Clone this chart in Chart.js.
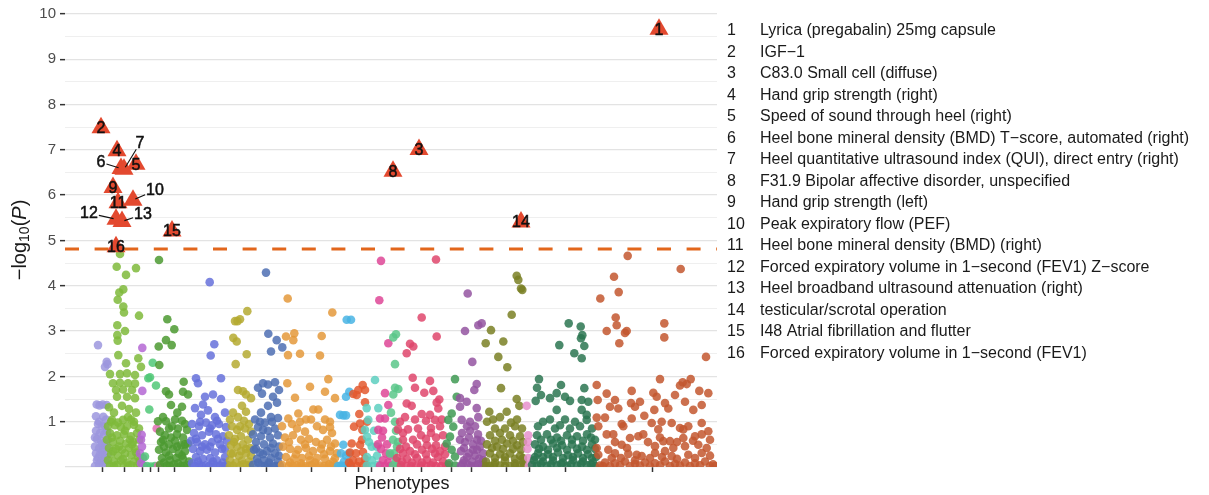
<!DOCTYPE html>
<html>
<head>
<meta charset="utf-8">
<script src="https://cdn.jsdelivr.net/npm/chart.js@4.4.1/dist/chart.umd.min.js"></script>
<style>
  html, body { margin: 0; padding: 0; background: #ffffff; }
  #wrap { width: 1209px; height: 495px; position: relative; }
</style>
</head>
<body>
<div id="wrap"><canvas id="phewas" width="1209" height="495"></canvas></div>
<script>
// PheWAS association results: [phenotype position, -log10(P)] per phenotype category
const grp01 = [[33,2.69],[41.7,2.32],[40,2.21],[42.5,2.27],[31.7,1.38],[34.5,1.36],[37.7,1.38],[41.7,1.37],[38.3,1.11],[31,1.12],[34,1.0],[41,1.05],[33,0.95],[37,0.9],[40,0.9],[31,0.8],[35,0.75],[39,0.72],[42,0.78],[30,0.65],[32,0.62],[36,0.58],[40,0.55],[43,0.6],[37,0.5],[30,0.45],[34,0.42],[38,0.4],[42,0.45],[37,0.35],[31,0.3],[35,0.28],[39,0.25],[43,0.3],[33,0.2],[41,0.2],[32,0.15],[36,0.12],[40,0.14],[34,0.05],[38,0.03],[42,0.08],[30,0.02]];
const grp02 = [[55,4.7],[51.7,4.42],[71,4.39],[61,4.24],[58.3,3.92],[54.3,3.85],[52.7,3.69],[58.3,3.54],[59,3.41],[74,3.34],[52.3,3.13],[60,3.0],[52.3,2.91],[52.7,2.79],[53.3,2.47],[73.3,2.4],[61,2.29],[76,2.21],[45,2.05],[55,2.05],[62,2.07],[70,2.03],[48,1.85],[55,1.86],[63,1.85],[70,1.84],[51,1.7],[58,1.71],[67,1.7],[52,1.55],[62,1.55],[70,1.52],[44,1.32],[57,1.35],[64,1.28],[49,1.2],[71,1.2],[47,1.04],[58,1.04],[66,1.05],[63,1.1],[46,1.0],[53,0.98],[69,1.0],[43,0.9],[50,0.92],[56,0.88],[62,0.9],[69,0.93],[74,0.85],[60,0.8],[45,0.75],[52,0.7],[59,0.72],[66,0.68],[72,0.75],[47,0.65],[65,0.6],[42,0.6],[48,0.55],[55,0.58],[61,0.52],[68,0.55],[74,0.6],[67,0.5],[54,0.45],[44,0.42],[51,0.4],[57,0.38],[64,0.42],[70,0.4],[48,0.35],[71,0.32],[46,0.28],[53,0.25],[60,0.3],[66,0.26],[73,0.22],[58,0.18],[43,0.15],[49,0.12],[56,0.14],[62,0.1],[69,0.12],[75,0.15],[45,0.03],[49,0.02],[52,0.05],[59,0.02],[63,0.03],[66,0.04],[72,0.03],[75,0.05]];
const grp03 = [[77.3,2.63],[77.3,1.68],[76.7,0.71],[76,0.6],[77,0.45],[75,0.3],[78,0.2],[76,0.08],[79,0.02]];
const grp04 = [[87.7,2.3],[83.3,1.96],[85,1.98],[91,1.8],[84.3,1.27],[80,0.23],[82,0.02],[86,0.01],[90,0.02]];
const grp05 = [[91.7,0.85],[93,0.02]];
const grp06 = [[94,4.57],[102.3,3.26],[109.3,3.04],[101,2.8],[106.7,2.69],[93.7,2.66],[94.3,2.25],[118.7,1.88],[101,1.67],[104,1.6],[118,1.66],[123,1.6],[106,1.37],[117,1.33],[112.3,1.2],[98,1.1],[110,1.05],[93,1.01],[101,1.01],[117,1.02],[107,0.9],[120,0.95],[122,0.82],[113,0.85],[104,0.85],[95,0.78],[100,0.7],[112,0.72],[118,0.65],[106,0.65],[98,0.6],[96,0.55],[104,0.5],[110,0.58],[116,0.48],[123,0.52],[120,0.5],[99,0.45],[112,0.45],[94,0.38],[101,0.32],[108,0.4],[114,0.3],[120,0.35],[104,0.25],[117,0.25],[97,0.2],[105,0.15],[111,0.2],[118,0.18],[124,0.12],[99,0.1],[113,0.08],[95,0.05],[102,0.03],[105,0.02],[109,0.06],[116,0.02],[119,0.02],[122,0.04]];
const grp07 = [[144.7,4.08],[149.3,2.71],[145.7,2.46],[131,1.96],[156,1.96],[133,1.85],[140,1.55],[148,1.6],[156,1.5],[130,1.3],[138,1.38],[136,1.15],[143,1.25],[150,1.1],[160,1.2],[135,1.0],[152,1.02],[127,0.95],[134,0.9],[141,0.98],[147,0.92],[154,0.95],[161,0.88],[145,0.85],[129,0.75],[137,0.7],[144,0.78],[151,0.72],[158,0.68],[131,0.62],[153,0.62],[126,0.58],[132,0.55],[140,0.5],[147,0.55],[155,0.5],[162,0.58],[137,0.45],[145,0.45],[160,0.4],[128,0.4],[135,0.35],[142,0.38],[150,0.32],[157,0.4],[131,0.22],[138,0.18],[145,0.2],[152,0.15],[160,0.22],[133,0.12],[148,0.12],[158,0.1],[127,0.08],[134,0.05],[141,0.04],[148,0.06],[155,0.03],[162,0.05],[130,0.02],[137,0.02],[144,0.02],[151,0.02],[159,0.02]];
const grp08 = [[182.3,3.44],[170,3.22],[175,3.26],[172.5,3.22],[168.3,2.85],[171.7,2.77],[181.7,2.49],[170.7,2.27],[173,1.7],[178,1.67],[181,1.6],[186,1.52],[177,1.35],[181,1.22],[168,1.2],[173,1.1],[165,1.05],[179,1.02],[184,0.95],[175,0.9],[167,0.9],[172,0.82],[180,0.85],[186,0.78],[164,0.7],[170,0.62],[176,0.68],[183,0.6],[169,0.55],[166,0.48],[172,0.45],[178,0.5],[185,0.42],[181,0.4],[176,0.35],[168,0.3],[166,0.3],[174,0.25],[181,0.3],[186,0.25],[165,0.15],[171,0.1],[177,0.14],[184,0.12],[178,0.06],[168,0.03],[175,0.02],[182,0.04],[185,0.03],[165,0.02]];
const grp09 = [[201,4.29],[203.3,2.94],[211.7,2.8],[217.3,2.64],[206,2.55],[198,1.85],[203,1.82],[210,1.87],[214,1.7],[193,1.75],[197,1.62],[208,1.55],[212,1.42],[203,1.35],[196,1.2],[213,1.08],[206,1.1],[195,1.0],[190,1.05],[200,0.98],[207,1.0],[193,0.88],[203,0.8],[198,0.82],[210,0.85],[188,0.72],[196,0.68],[205,0.65],[213,0.7],[191,0.55],[199,0.5],[208,0.52],[214,0.45],[191,0.4],[206,0.42],[189,0.38],[195,0.32],[202,0.35],[210,0.3],[198,0.28],[214,0.25],[192,0.18],[199,0.15],[206,0.2],[213,0.12],[204,0.1],[193,0.1],[188,0.05],[196,0.03],[203,0.04],[211,0.02],[200,0.02],[208,0.02],[215,0.03]];
const grp10 = [[222.7,3.72],[267.3,3.41],[229.3,2.95],[221,2.88],[228.3,2.8],[256.7,2.89],[223,2.47],[235,2.5],[255,2.46],[222.3,1.85],[245,1.77],[263.3,1.94],[260,1.66],[270,1.52],[230,1.53],[248.3,1.27],[253.3,1.27],[233.3,1.18],[223.3,1.07],[241,1.05],[246,1.05],[260,1.05],[265,1.0],[227,0.95],[235,1.0],[252,0.9],[265,0.88],[217,0.9],[232,0.85],[240,0.78],[258,0.82],[267,0.75],[220,0.65],[228,0.7],[236,0.6],[244,0.62],[251,0.55],[262,0.6],[270,0.52],[224,0.55],[240,0.5],[257,0.5],[266,0.45],[218,0.45],[225,0.4],[233,0.38],[241,0.42],[248,0.35],[256,0.4],[265,0.35],[272,0.3],[231,0.28],[244,0.25],[259,0.28],[270,0.2],[221,0.22],[229,0.18],[237,0.2],[245,0.15],[252,0.2],[260,0.18],[268,0.12],[225,0.1],[236,0.08],[250,0.1],[264,0.06],[217,0.05],[224,0.03],[232,0.04],[240,0.02],[247,0.05],[255,0.03],[263,0.02],[271,0.04],[228,0.02],[236,0.02],[244,0.02],[251,0.02],[259,0.02],[267,0.02]];
const grp11 = [[281.7,3.25],[286,3.25],[281,1.55],[284.3,1.66],[275,1.15],[278.3,1.14],[281,1.14],[278.3,0.49],[276,0.3],[284,0.3],[281,0.25],[279,0.12],[284,0.08],[276,0.03],[282,0.02],[273,0.02],[279,0.02],[285,0.02]];
const grp12 = [[288.3,1.61],[293.3,1.7],[297.7,1.81],[300,1.7],[291.7,1.59],[300,1.43],[294.3,1.17],[302,1.0],[289,0.89],[295,0.96],[297.3,0.82],[297,0.6],[286.7,0.52],[295,0.49],[285,0.32],[291,0.3],[298,0.33],[288,0.15],[294,0.12],[300,0.18],[284,0.1],[286,0.03],[292,0.02],[298,0.04],[302,0.03]];
const grp13 = [[310,1.92],[301.7,1.3],[313.3,1.3],[303.3,1.04],[300,0.82],[309,0.8],[302,0.67],[304,0.55],[306.7,0.45],[311.7,0.45],[312,0.25],[302,0.22],[307,0.15],[302,0.03],[308,0.02],[313,0.05]];
const grp14 = [[316,4.55],[314.3,3.68],[323.3,2.73],[320,1.63],[323.3,1.37],[315,1.07],[320,1.07],[313.3,0.82],[318,0.8],[317,0.65],[322,0.5],[313,0.5],[316,0.4],[321,0.3],[325,0.25],[318,0.15],[323,0.1],[315,0.03],[320,0.02],[325,0.02]];
const grp15 = [[331,2.93],[328.3,2.86],[330,2.27],[333.3,1.72],[328.3,1.6],[330,1.75],[326,1.2],[330,1.0],[331,0.8],[328,0.6],[333,0.55],[332,0.45],[325,0.3],[329,0.3],[331,0.15],[328,0.03],[333,0.02]];
const grp16 = [[371,4.58],[356.7,3.3],[371.7,2.88],[345,2.72],[348.3,2.66],[341.7,2.51],[347.7,1.97],[365,1.9],[350,1.75],[359.3,1.64],[368.3,1.68],[374.3,1.49],[371.7,1.42],[373.3,1.29],[341.7,1.4],[346.7,1.35],[356.7,1.17],[365,1.15],[340,1.1],[350,1.05],[335,1.0],[361,1.02],[370,1.04],[376.7,1.05],[333,0.83],[343,0.83],[353,0.85],[366,0.86],[375,0.9],[338,0.75],[356,0.7],[366,0.75],[378,0.7],[338,0.6],[348,0.6],[361,0.62],[371,0.65],[341,0.45],[352,0.5],[362,0.48],[371,0.48],[380,0.45],[335,0.4],[345,0.35],[357,0.38],[367,0.4],[375,0.35],[338,0.3],[350,0.28],[361,0.28],[370,0.3],[380,0.28],[332,0.2],[342,0.18],[352,0.2],[362,0.16],[373,0.22],[337,0.12],[347,0.1],[357,0.1],[368,0.1],[378,0.12],[336,0.04],[346,0.02],[356,0.03],[366,0.04],[376,0.02],[383,0.05],[341,0.02],[351,0.02],[361,0.02],[371,0.02],[381,0.02]];
const grp17 = [[390,1.94],[391.7,1.55],[386.7,1.18],[383.3,1.04],[388.3,0.89],[385,0.67],[381.7,0.52],[386.7,0.38],[390,0.23],[384,0.08],[390,0.03]];
const grp18 = [[402.7,3.83],[413.3,3.13],[416.7,3.17],[400,3.0],[407.3,2.32],[411.7,1.83],[409.3,1.7],[395,1.52],[401.7,1.44],[395,1.33],[411.7,1.3],[405,1.0],[396.7,1.04],[413.3,1.1],[402,0.9],[410,0.9],[397,0.75],[405,0.8],[413,0.72],[404,0.65],[395,0.6],[412,0.6],[400,0.55],[408,0.5],[416,0.58],[399,0.42],[408,0.38],[415,0.45],[396,0.35],[404,0.3],[412,0.38],[418,0.3],[402,0.22],[410,0.25],[399,0.15],[407,0.12],[414,0.18],[418,0.15],[398,0.08],[413,0.06],[396,0.03],[403,0.05],[406,0.02],[410,0.02],[417,0.04],[419,0.02]];
const grp19 = [[451.7,4.22],[453.3,4.13],[456,3.94],[457.3,3.91],[446.7,3.36],[426,3.02],[438.3,2.77],[420.7,2.73],[433.3,2.43],[442.3,2.2],[436,1.74],[451.7,1.5],[454.3,1.35],[424.3,1.22],[441.7,1.22],[435,1.1],[428,1.05],[452,1.05],[422,1.0],[446,0.98],[450,0.9],[457,0.85],[430,0.85],[440,0.85],[425,0.7],[435,0.75],[445,0.7],[455,0.68],[430,0.58],[437,0.6],[448,0.58],[422,0.5],[432,0.45],[442,0.52],[452,0.48],[458,0.55],[427,0.42],[438,0.4],[448,0.4],[456,0.38],[425,0.3],[435,0.28],[445,0.3],[455,0.25],[430,0.2],[440,0.22],[450,0.18],[458,0.2],[421,0.12],[430,0.1],[440,0.14],[450,0.08],[458,0.12],[425,0.02],[435,0.03],[445,0.02],[455,0.04],[421,0.02],[429,0.03],[440,0.02],[450,0.02],[459,0.02]];
const grp20 = [[461.7,1.35],[463.3,0.7],[463,0.55],[462.5,0.4],[463.3,0.2],[464,0.03]];
const grp21 = [[503.7,3.17],[515.7,3.1],[517.3,2.91],[516,2.84],[519.3,2.67],[494.3,2.69],[509.3,2.51],[516.7,2.4],[474,1.94],[472,1.75],[496,1.81],[519.3,1.74],[476,1.59],[485,1.52],[491.7,1.63],[500,1.55],[505,1.46],[516.7,1.48],[523.3,1.44],[470.7,1.46],[491.7,1.26],[516.7,1.26],[521.7,1.15],[521.7,1.04],[485,1.05],[500,1.05],[510,1.0],[478,1.0],[495,0.92],[505,0.85],[515,0.9],[527,0.85],[473,0.9],[490,0.85],[472,0.7],[482,0.72],[492,0.65],[502,0.7],[512,0.68],[522,0.72],[530,0.6],[476,0.6],[486,0.6],[496,0.58],[507,0.6],[518,0.58],[526,0.65],[470,0.5],[478,0.45],[488,0.52],[497,0.48],[507,0.5],[517,0.45],[527,0.5],[474,0.4],[483,0.38],[492,0.42],[502,0.38],[512,0.4],[522,0.38],[530,0.4],[473,0.3],[483,0.28],[493,0.32],[503,0.26],[513,0.3],[523,0.28],[531,0.22],[470,0.22],[478,0.22],[488,0.22],[498,0.2],[508,0.22],[518,0.2],[527,0.2],[469,0.15],[478,0.12],[488,0.14],[498,0.1],[508,0.15],[518,0.12],[528,0.1],[467,0.05],[476,0.07],[486,0.06],[496,0.07],[506,0.06],[516,0.07],[526,0.06],[472,0.03],[482,0.02],[492,0.04],[502,0.02],[512,0.03],[522,0.04],[530,0.02]];
const grp22 = [[562.7,4.66],[615.7,4.37],[549,4.2],[553.7,3.86],[535.3,3.72],[550.7,3.3],[551.7,3.13],[541.7,3.0],[560,2.96],[561.7,3.0],[554.3,2.73],[599.3,3.17],[599.3,2.86],[641,2.43],[595,1.94],[617.7,1.87],[625.7,1.94],[615,1.8],[621.7,1.83],[531.7,1.81],[541.7,1.62],[566.7,1.68],[588.3,1.64],[610,1.59],[634.3,1.68],[643.3,1.63],[532.7,1.48],[550,1.48],[566,1.41],[575,1.44],[591.7,1.55],[600,1.41],[620,1.44],[636.7,1.37],[545,1.33],[553.3,1.29],[570,1.33],[579.3,1.13],[589.3,1.26],[603.3,1.29],[628.3,1.26],[531.7,1.09],[540,1.09],[556.7,0.95],[566.7,1.07],[586.7,0.97],[596.7,1.0],[606.7,0.97],[615,0.86],[623.3,0.9],[636.7,0.97],[533.3,0.9],[558.3,0.9],[593.3,0.83],[618.3,0.83],[643.3,0.79],[541.7,0.72],[548.3,0.72],[565,0.64],[573.3,0.68],[578.3,0.72],[598.3,0.57],[605,0.57],[618.3,0.64],[630,0.68],[636.7,0.72],[595,0.65],[645,0.6],[550,0.55],[583,0.55],[612,0.55],[628,0.58],[531.7,0.42],[543.3,0.38],[556.7,0.49],[562,0.42],[571.7,0.27],[590,0.46],[600,0.35],[608.3,0.42],[620,0.46],[633.3,0.49],[641.7,0.42],[533.3,0.27],[550,0.3],[546.7,0.2],[556,0.2],[563.3,0.29],[570,0.15],[576.7,0.24],[585,0.2],[590,0.31],[597,0.22],[606.7,0.24],[612,0.18],[623.3,0.27],[630,0.2],[636.7,0.31],[645,0.25],[540,0.1],[550,0.08],[560,0.12],[570,0.07],[580,0.1],[590,0.08],[600,0.12],[610,0.07],[620,0.1],[630,0.08],[640,0.12],[648,0.06],[535,0.03],[538,0.02],[545,0.02],[555,0.04],[565,0.02],[575,0.03],[585,0.02],[595,0.04],[605,0.02],[615,0.03],[625,0.02],[635,0.04],[645,0.02],[650,0.02]];

const groups = [grp01, grp02, grp03, grp04, grp05, grp06, grp07, grp08, grp09, grp10, grp11,
                grp12, grp13, grp14, grp15, grp16, grp17, grp18, grp19, grp20, grp21, grp22];
const groupColors = ['#9c96de', '#7fba3b', '#b467d4', '#50c877', '#e06db0', '#4c9a31', '#6671da',
                     '#b5aa31', '#4d6fb3', '#e4993b', '#49b4e4', '#e3592f', '#5dcfbf', '#de4797',
                     '#5bc78a', '#df466c', '#3f9a53', '#9455a1', '#7a8024', '#e690cb', '#2c7651', '#c3572f'];
// category centre positions on the phenotype axis
const groupTicks = [37, 59, 77, 85, 93, 109, 145, 175, 201, 246, 280, 293, 306, 319, 328,
                    357, 386, 407, 441, 464, 500, 587];
// y axis breaks: gridlines every half unit, labels on whole units
const yBreaks = [0, 0.5, 1, 1.5, 2, 2.5, 3, 3.5, 4, 4.5, 5, 5.5, 6, 6.5, 7, 7.5, 8, 8.5, 9, 9.5, 10];
const yLabels = ['', '', '1', '', '2', '', '3', '', '4', '', '5', '', '6', '', '7', '', '8', '', '9', '', '10'];

// significant hits
const hitIds  = [1, 2, 3, 4, 5, 6, 7, 8, 9, 10, 11, 12, 13, 14, 15, 16];
const hitPos  = [594, 36, 354, 52, 71, 56, 59, 328, 48, 68, 53, 51, 57, 456, 107, 51];
const hitLogP = [9.66, 7.49, 7.01, 6.98, 6.68, 6.59, 6.57, 6.53, 6.17, 5.89, 5.83, 5.47, 5.42, 5.41, 5.21, 4.86];
const hitNames = [
  'Lyrica (pregabalin) 25mg capsule',
  'IGF\u22121',
  'C83.0 Small cell (diffuse)',
  'Hand grip strength (right)',
  'Speed of sound through heel (right)',
  'Heel bone mineral density (BMD) T\u2212score, automated (right)',
  'Heel quantitative ultrasound index (QUI), direct entry (right)',
  'F31.9 Bipolar affective disorder, unspecified',
  'Hand grip strength (left)',
  'Peak expiratory flow (PEF)',
  'Heel bone mineral density (BMD) (right)',
  'Forced expiratory volume in 1\u2212second (FEV1) Z\u2212score',
  'Heel broadband ultrasound attenuation (right)',
  'testicular/scrotal operation',
  'I48 Atrial fibrillation and flutter',
  'Forced expiratory volume in 1\u2212second (FEV1)'
];
const threshold = 4.81;

const FONT = '"Liberation Sans", Arial, Helvetica, sans-serif';

// labels pushed off crowded triangles, in pixels from the point
const labelNudge = { 6: [-20, -6], 7: [16, -26], 10: [22, -10], 12: [-27, -6], 13: [21, -7] };

function rgba(hex, a) {
  const n = parseInt(hex.slice(1), 16);
  return 'rgba(' + (n >> 16) + ',' + ((n >> 8) & 255) + ',' + (n & 255) + ',' + a + ')';
}

const datasets = [];
groups.forEach((g, i) => {
  datasets.push({
    type: 'scatter',
    data: g,
    backgroundColor: rgba(groupColors[i], 0.85),
    borderWidth: 0,
    pointRadius: 4.3,
    pointHoverRadius: 4.3,
    clip: 0,
    order: 100 - i
  });
});
datasets.push({
  type: 'line',
  data: [{ x: 0, y: threshold }, { x: 652, y: threshold }],
  borderColor: '#e2661c',
  borderWidth: 3,
  borderDash: [14, 15.6],
  pointRadius: 0,
  fill: false,
  clip: 0,
  order: 1
});
datasets.push({
  type: 'scatter',
  data: hitPos.map((p, i) => ({ x: p, y: hitLogP[i] })),
  pointStyle: 'triangle',
  pointRadius: 11,
  pointHoverRadius: 11,
  backgroundColor: '#e3492f',
  borderWidth: 0,
  clip: false,
  order: 0
});

const overlay = {
  id: 'overlay',
  afterDatasetsDraw(chart) {
    const { ctx, scales: { x, y } } = chart;
    ctx.save();
    ctx.font = '16px ' + FONT;
    ctx.textAlign = 'center';
    ctx.textBaseline = 'middle';
    ctx.fillStyle = '#111111';
    ctx.strokeStyle = '#111111';
    hitIds.forEach((id, i) => {
      const px = x.getPixelForValue(hitPos[i]);
      const py = y.getPixelForValue(hitLogP[i]);
      const n = labelNudge[id];
      const lx = px + (n ? n[0] : 0);
      const ly = py + (n ? n[1] : 1);
      if (n) {
        const dx = px - lx, dy = py - ly, len = Math.hypot(dx, dy);
        const ux = dx / len, uy = dy / len;
        const hw = ctx.measureText(String(id)).width / 2 + 1, hh = 6;
        const t = Math.min(Math.abs(ux) > 1e-6 ? hw / Math.abs(ux) : 1e9, Math.abs(uy) > 1e-6 ? hh / Math.abs(uy) : 1e9);
        ctx.lineWidth = 1.1;
        ctx.beginPath();
        ctx.moveTo(lx + ux * t, ly + uy * t);
        ctx.lineTo(px - ux * 2.5, py - uy * 2.5);
        ctx.stroke();
      }
      ctx.lineWidth = 0.5;
      ctx.fillText(String(id), lx, ly);
      ctx.strokeText(String(id), lx, ly);
    });
    ctx.restore();
  },
  afterDraw(chart) {
    const ctx = chart.ctx;
    ctx.save();
    // key of numbered hits
    ctx.font = '16px ' + FONT;
    ctx.fillStyle = '#1a1a1a';
    ctx.textBaseline = 'middle';
    ctx.textAlign = 'left';
    hitNames.forEach((name, i) => {
      const yy = 31 + i * 21.5;
      ctx.fillText(String(hitIds[i]), 727, yy);
      ctx.fillText(name, 760, yy);
    });
    // x title
    ctx.font = '18px ' + FONT;
    ctx.textAlign = 'center';
    ctx.fillText('Phenotypes', 402, 484);
    // y title: -log10(P)
    ctx.translate(20, 240);
    ctx.rotate(-Math.PI / 2);
    const parts = [
      ['\u2212log', '20px ' + FONT, 0],
      ['10', '14px ' + FONT, 5],
      ['(', '20px ' + FONT, 0],
      ['P', 'italic 20px ' + FONT, 0],
      [')', '20px ' + FONT, 0]
    ];
    let total = 0;
    parts.forEach(p => { ctx.font = p[1]; total += ctx.measureText(p[0]).width; });
    let cx = -total / 2;
    ctx.textAlign = 'left';
    ctx.textBaseline = 'middle';
    parts.forEach(p => {
      ctx.font = p[1];
      ctx.fillText(p[0], cx, p[2]);
      cx += ctx.measureText(p[0]).width;
    });
    ctx.restore();
  }
};

const isMajor = v => Math.abs(v - Math.round(v)) < 1e-6;
const labelFor = v => { const k = yBreaks.findIndex(b => Math.abs(b - v) < 1e-6); return k < 0 ? '' : yLabels[k]; };

new Chart(document.getElementById('phewas'), {
  type: 'scatter',
  data: { datasets },
  options: {
    responsive: false,
    maintainAspectRatio: false,
    devicePixelRatio: 1,
    animation: false,
    events: [],
    layout: { padding: { top: 0, right: 492, bottom: 0, left: 0 } },
    plugins: { legend: { display: false }, tooltip: { enabled: false } },
    scales: {
      x: {
        type: 'linear',
        min: 0,
        max: 652,
        border: { display: false },
        afterBuildTicks: s => { s.ticks = groupTicks.map(v => ({ value: v })); },
        afterFit: s => { s.height = 28; },
        grid: { drawOnChartArea: false, drawTicks: true, tickLength: 5, tickColor: '#333333', tickWidth: 1.5 },
        ticks: { autoSkip: false, callback: () => '', maxRotation: 0 }
      },
      y: {
        type: 'linear',
        min: 0,
        max: 10.02,
        border: { display: false },
        afterBuildTicks: s => { s.ticks = yBreaks.map(v => ({ value: v })); },
        afterFit: s => { s.width = 65; },
        grid: {
          color: c => isMajor(c.tick.value) ? '#e3e3e3' : '#efefef',
          lineWidth: c => isMajor(c.tick.value) ? 1.3 : 1,
          drawTicks: true,
          tickLength: 5,
          tickWidth: 1.5,
          tickColor: c => labelFor(c.tick.value) ? '#333333' : 'rgba(0,0,0,0)'
        },
        ticks: {
          autoSkip: false,
          padding: 4,
          color: '#4d4d4d',
          font: { family: FONT, size: 15 },
          callback: v => labelFor(v)
        }
      }
    }
  },
  plugins: [overlay]
});
</script>
</body>
</html>
